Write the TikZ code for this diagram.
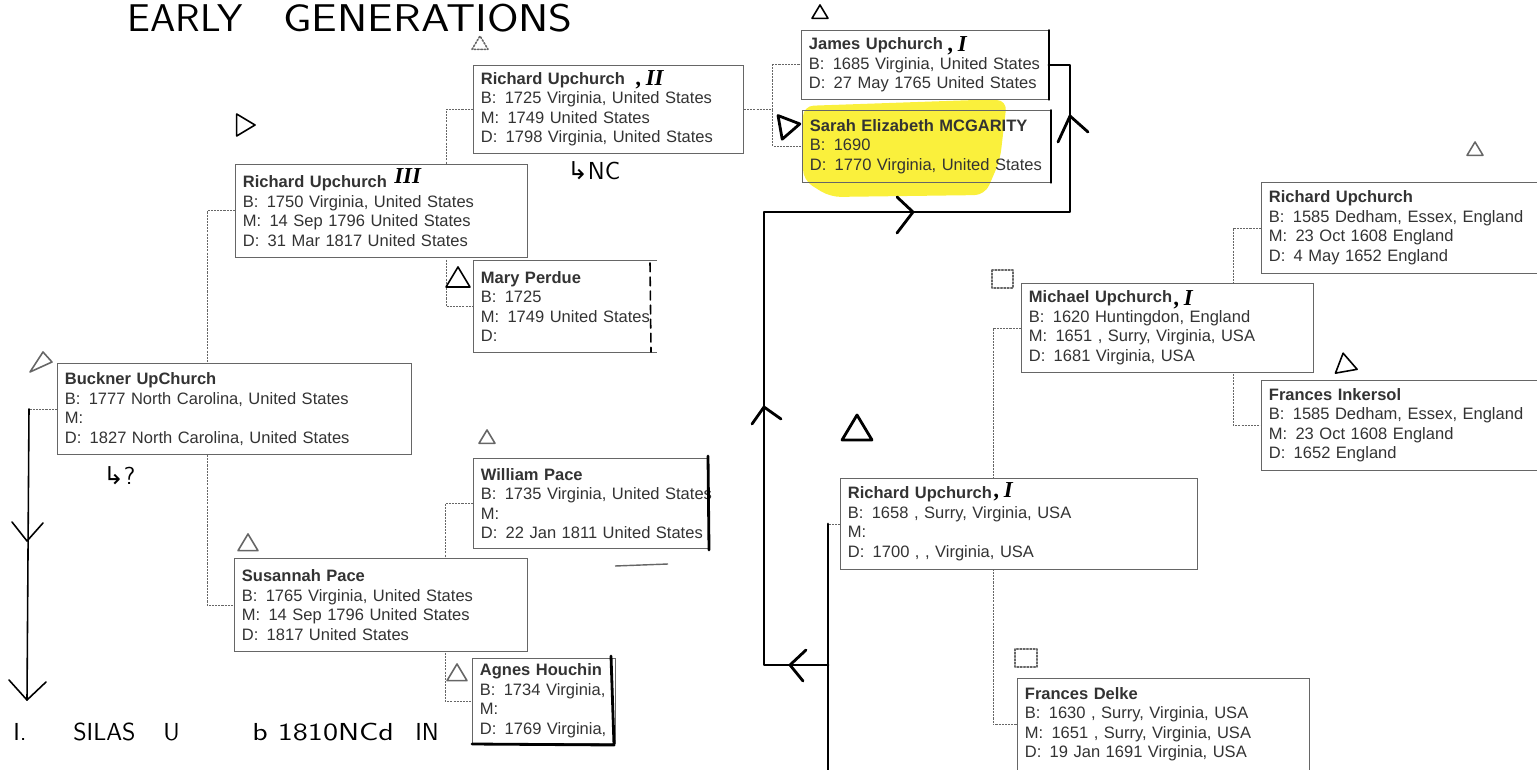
\documentclass[tikz,border=0pt]{standalone}
\usepackage{fontspec}
\setmainfont{Liberation Sans}
\newfontfamily\numfont{Liberation Serif}
\newfontfamily\symfont{DejaVu Sans}
\usetikzlibrary{backgrounds}
\definecolor{scanink}{gray}{0.2}
\definecolor{scanrule}{gray}{0.4}
\definecolor{hilite}{RGB}{250,240,60}
\newcommand{\trimark}[4][]{\draw[inkthin,#1] (#2,#3) ++(-#4/2,#4/3) -- ++(#4/2,-5*#4/6) -- ++(#4/2,5*#4/6) -- cycle;}
\newcommand{\opensides}[2]{\draw[boxline] (#1.north west) ++(#2,0) -- (#1.north west) -- (#1.south west) -- ++(#2,0);}
\tikzset{
 person/.style={draw=scanrule, line width=0.5pt, fill=white, anchor=north west, align=left,
   inner xsep=0.15cm, inner ysep=0pt, text=scanink, font=\fontsize{9.4}{11.1}\selectfont},
 boxsize/.style 2 args={text width={#1*0.02cm-0.3cm}, minimum height={#2*0.02cm}},
 boxline/.style={draw=scanrule, line width=0.5pt},
 link/.style={draw=scanrule, line width=0.5pt, dash pattern=on 1.2pt off 0.6pt},
 inkline/.style={line width=1.6pt, line cap=round, line join=round},
 inkthin/.style={line width=0.9pt, line cap=round, line join=round},
 scrawl/.style={font=\sffamily\fontsize{14}{14}\selectfont, inner sep=0pt, anchor=base west},
 heading/.style={scrawl, font=\sffamily\fontsize{22}{22}\selectfont},
 numeral/.style={font=\numfont\bfseries\itshape\fontsize{13}{13}\selectfont, inner sep=0pt, anchor=base west}
}

\begin{document}
\begin{tikzpicture}[x=0.02cm, y=-0.02cm]
 \useasboundingbox (0,0) rectangle (1537,770);

 \node[person, boxsize={354}{91}] (buckner) at (57,363) {\textbf{Buckner UpChurch}\\B:\enspace 1777 North Carolina, United States\\M:\\D:\enspace 1827 North Carolina, United States};
 \node[person, boxsize={292}{93}] (richIII) at (235,164) {\textbf{Richard Upchurch}\\B:\enspace 1750 Virginia, United States\\M:\enspace 14 Sep 1796 United States\\D:\enspace 31 Mar 1817 United States};
 \node[person, boxsize={293}{93}] (susannah) at (234,558) {\textbf{Susannah Pace}\\B:\enspace 1765 Virginia, United States\\M:\enspace 14 Sep 1796 United States\\D:\enspace 1817 United States};
 \node[person, boxsize={270}{88}] (richII) at (473,65) {\textbf{Richard Upchurch}\\B:\enspace 1725 Virginia, United States\\M:\enspace 1749 United States\\D:\enspace 1798 Virginia, United States};
 \node[person, boxsize={190}{92}, draw=none] (mary) at (473,260) {\textbf{Mary Perdue}\\B:\enspace 1725\\M:\enspace 1749 United States\\D:};
 \node[person, boxsize={250}{90}, draw=none] (william) at (473,458) {\textbf{William Pace}\\B:\enspace 1735 Virginia, United States\\M:\\D:\enspace 22 Jan 1811 United States};
 \node[person, boxsize={143}{85}] (agnes) at (472,658) {\textbf{Agnes Houchin}\\B:\enspace 1734 Virginia,\\M:\\D:\enspace 1769 Virginia,};
 \node[person, boxsize={247}{69}] (james) at (801,30) {\textbf{James Upchurch}\\B:\enspace 1685 Virginia, United States\\D:\enspace 27 May 1765 United States};
 \node[person, boxsize={248}{72}, fill=none] (sarah) at (802,110) {\textbf{Sarah Elizabeth MCGARITY}\\B:\enspace 1690\\D:\enspace 1770 Virginia, United States};
 \node[person, boxsize={300}{91}] (rich1585) at (1261,182) {\textbf{Richard Upchurch}\\B:\enspace 1585 Dedham, Essex, England\\M:\enspace 23 Oct 1608 England\\D:\enspace 4 May 1652 England};
 \node[person, boxsize={292}{89}] (michael) at (1021,283) {\textbf{Michael Upchurch}\\B:\enspace 1620 Huntingdon, England\\M:\enspace 1651 , Surry, Virginia, USA\\D:\enspace 1681 Virginia, USA};
 \node[person, boxsize={300}{90}] (frances) at (1261,380) {\textbf{Frances Inkersol}\\B:\enspace 1585 Dedham, Essex, England\\M:\enspace 23 Oct 1608 England\\D:\enspace 1652 England};
 \node[person, boxsize={357}{91}] (rich1658) at (840,478) {\textbf{Richard Upchurch}\\B:\enspace 1658 , Surry, Virginia, USA\\M:\\D:\enspace 1700 , , Virginia, USA};
 \node[person, boxsize={292}{92}] (delke) at (1017,678) {\textbf{Frances Delke}\\B:\enspace 1630 , Surry, Virginia, USA\\M:\enspace 1651 , Surry, Virginia, USA\\D:\enspace 19 Jan 1691 Virginia, USA};
 \opensides{mary}{184}
 \opensides{william}{235}

 \begin{pgfonlayer}{background}
  \fill[hilite, rounded corners=6pt] (803,106) -- (975,100) -- (1007,100) -- (1000,160) -- (985,195) -- (830,197) -- (803,180) -- cycle;
  \draw[link] (richIII.west) -- ++(-28,0) |- (susannah.west);
  \draw[link] (richII.west) -- ++(-27,0) |- (mary.west);
  \draw[link] (william.west) -- ++(-28,0) |- (agnes.west);
  \draw[link] (richII.east) -- ++(29,0) coordinate (fork) |- (james.west);
  \draw[link] (fork) |- (sarah.west);
  \draw[link] (rich1585.west) -- ++(-28,0) |- (frances.west);
  \draw[link] (michael.west) -- ++(-28,0) |- (delke.west);
  \draw[link] (buckner.west) -- ++(-28,0) coordinate (bk);
  \draw[scanrule, line width=0.8pt] (615,566) -- (668,564);
 \end{pgfonlayer}

 % pen work
 \path (rich1658.west) ++(-12,0) coordinate (stub);
 \coordinate (upR) at (1070,212);
 \coordinate (upL) at (764,212);
 \coordinate (lowL) at (764,665);
 \coordinate (stubEnd) at (828,775);
 \draw[link] (rich1658.west) -- (stub);
 \draw[inkline] (james.east) -| (upR) -- (upL) -- (lowL) -- (lowL -| stub);
 \draw[inkline] (stub) -- (stubEnd);
 \draw[inkline] (1058,142) -- (1070,116) -- (1088,132);
 \draw[inkline] (897,197) -- (913,212) -- (897,233);
 \draw[inkline] (752,424) -- (764,407) -- (781,419);
 \draw[inkline] (806,650) -- (790,665) -- (803,681);
 \draw[inkthin] (bk) -- (27,700);
 \draw[inkthin] (12,522) -- (27,541) -- (43,523);
 \draw[inkthin] (9,680) -- (27,700) -- (46,682);
 \draw[inkthin, dash pattern=on 5pt off 3pt] (650,263) -- (651,352);
 \draw[inkline] (708,456) -- (709,550);
 \draw[inkline] (611,656) -- (614,745) -- (472,744);
 \draw[inkthin] (james.north east) -- (james.south east);
 \draw[inkthin] (sarah.north east) -- (sarah.south east);

 \node[numeral] (numIII) at (394,184) {III};
 \node[numeral] (numII) at (636,86) {,\,II};
 \node[numeral] (numJ) at (948,52) {,\,I};
 \node[numeral] (numM) at (1174,305) {,\,I};
 \node[numeral] (numR) at (994,497) {,\,I};

 \node[heading] (early) at (127,32) {\scalebox{1.05}[1]{EARLY}};
 \node[heading] (gens) at (283,32) {\scalebox{1.18}[1]{GENERATIONS}};
 \node[scrawl] (nc) at (567,180) {{\symfont ↳}NC};
 \node[scrawl] (query) at (103,484) {{\symfont ↳}?};
 \node[scrawl] (silas1) at (13,740) {I.};
 \node[scrawl] (silas2) at (73,740) {SILAS};
 \node[scrawl] (silas3) at (163,740) {U};
 \node[scrawl] (silas4) at (252,740) {\scalebox{1.25}[1]{b 1810NCd}};
 \node[scrawl] (silas5) at (415,740) {IN};

 \trimark[scanrule, densely dotted]{480}{44}{16}
 \trimark[rotate around={-90:(244,125)}]{244}{125}{22}
 \trimark{820}{13}{16}
 \trimark[inkline, rotate around={-80:(788,126)}]{788}{126}{24}
 \trimark{458}{279}{24}
 \draw[inkthin, scanrule] (30,372) -- (43,352) -- (52,362) -- cycle;
 \trimark[scanrule]{487}{438}{16}
 \trimark[scanrule]{248}{544}{20}
 \trimark[scanrule]{457}{674}{20}
 \trimark[rotate around={10:(1345,364)}]{1345}{364}{22}
 \trimark[inkline]{857}{430}{30}
 \trimark[scanrule]{1475}{150}{16}
 \draw[inkthin, scanrule, densely dotted] (992,270) rectangle (1013,288);
 \draw[inkthin, scanrule, densely dotted] (1015,649) rectangle (1037,667);
\end{tikzpicture}
\end{document}
